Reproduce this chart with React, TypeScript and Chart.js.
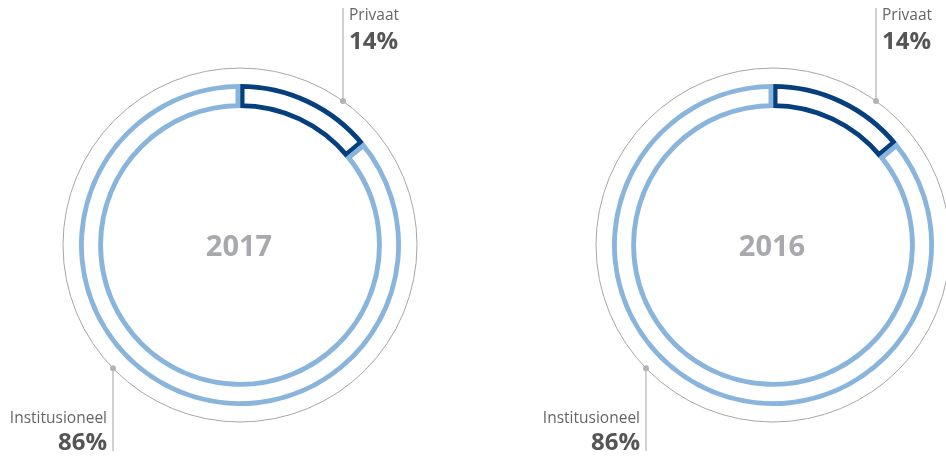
import React, { useEffect, useRef } from "react";
import { Chart, registerables } from "chart.js";

Chart.register(...registerables);

const years = ["2017", "2016"];
const categories = ["Privaat", "Institusioneel"];
const values2017 = [14, 86];
const values2016 = [14, 86];
const seriesByYear = [values2017, values2016];
const segmentColors = ["#053f7e", "#89b4dc"];

const FONT = "'Open Sans', 'Noto Sans', sans-serif";

function makeLabelPlugin(year: string, values: number[]) {
  return {
    id: "labels" + year,
    afterDraw(chart: any) {
      const arc = chart.getDatasetMeta(0).data[0];
      if (!arc) return;
      const cx = arc.x;
      const cy = arc.y;
      const R = arc.outerRadius + 16;
      const ctx = chart.ctx;
      ctx.save();
      // outer thin circle
      ctx.beginPath();
      ctx.arc(cx, cy, R, 0, Math.PI * 2);
      ctx.strokeStyle = "#a6a6a6";
      ctx.lineWidth = 1;
      ctx.stroke();

      // center year
      ctx.fillStyle = "#a7a9ac";
      ctx.font = "bold 29px " + FONT;
      ctx.textAlign = "center";
      ctx.textBaseline = "alphabetic";
      ctx.fillText(year, cx - 1, cy + 11);

      // Privaat leader (top right)
      const px = cx + 103;
      const py = cy - Math.sqrt(R * R - 103 * 103);
      ctx.strokeStyle = "#b3b3b3";
      ctx.lineWidth = 1.2;
      ctx.beginPath();
      ctx.moveTo(px, py);
      ctx.lineTo(px, 8);
      ctx.stroke();
      ctx.fillStyle = "#b3b3b3";
      ctx.beginPath();
      ctx.arc(px, py, 3, 0, Math.PI * 2);
      ctx.fill();

      ctx.textAlign = "left";
      ctx.fillStyle = "#666666";
      ctx.font = "15.5px " + FONT;
      ctx.fillText(categories[0], px + 6, 20);
      ctx.fillStyle = "#555555";
      ctx.font = "bold 24px " + FONT;
      ctx.fillText(values[0] + "%", px + 6, 49);

      // Institusioneel leader (bottom left)
      const qx = cx - 127;
      const qy = cy + Math.sqrt(R * R - 127 * 127);
      ctx.strokeStyle = "#b3b3b3";
      ctx.beginPath();
      ctx.moveTo(qx, qy);
      ctx.lineTo(qx, 451);
      ctx.stroke();
      ctx.fillStyle = "#b3b3b3";
      ctx.beginPath();
      ctx.arc(qx, qy, 3, 0, Math.PI * 2);
      ctx.fill();

      ctx.textAlign = "right";
      ctx.fillStyle = "#666666";
      ctx.font = "15.5px " + FONT;
      ctx.fillText(categories[1], qx - 6, 423);
      ctx.fillStyle = "#555555";
      ctx.font = "bold 24px " + FONT;
      ctx.fillText(values[1] + "%", qx - 6, 450);
      ctx.restore();
    },
  };
}

function Donut({ index, left }: { index: number; left: number }) {
  const ref = useRef<HTMLCanvasElement>(null);
  useEffect(() => {
    if (!ref.current) return;
    const values = seriesByYear[index];
    const chart = new Chart(ref.current, {
      type: "doughnut",
      data: {
        labels: categories,
        datasets: [
          {
            data: values,
            backgroundColor: ["#ffffff", "#ffffff"],
            borderColor: segmentColors,
            borderWidth: 4.5,
            borderAlign: "inner",
          } as any,
        ],
      },
      options: {
        responsive: false,
        animation: false,
        events: [],
        radius: 161,
        cutout: "85.1%",
        layout: { padding: { top: 31 } },
        plugins: {
          legend: { display: false },
          tooltip: { enabled: false },
        },
      } as any,
      plugins: [makeLabelPlugin(years[index], values)],
    });
    return () => chart.destroy();
  }, [index]);
  return (
    <canvas
      ref={ref}
      width={480}
      height={459}
      style={{ position: "absolute", left, top: 0, width: 480, height: 459 }}
    />
  );
}

export default function App() {
  return (
    <div
      style={{
        position: "fixed",
        left: 0,
        top: 0,
        width: 946,
        height: 459,
        overflow: "hidden",
        background: "#ffffff",
      }}
    >
      <Donut index={0} left={0} />
      <Donut index={1} left={533} />
    </div>
  );
}
